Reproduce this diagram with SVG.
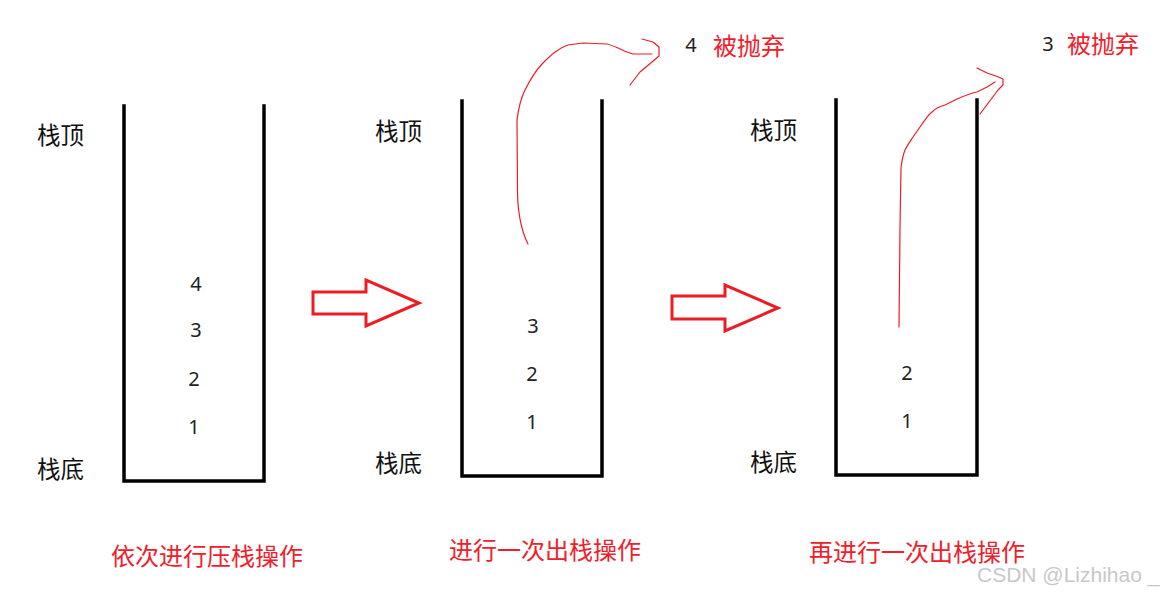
<svg xmlns="http://www.w3.org/2000/svg" width="1168" height="592" viewBox="0 0 1168 592">
<style>
.wall{fill:none;stroke:#000;stroke-width:3.5;stroke-linecap:square}
.lbl{font-family:"Noto Sans CJK SC","Liberation Sans",sans-serif;font-size:23.5px;fill:#111}
.num{font-family:"Noto Sans","Noto Sans CJK SC",sans-serif;font-size:20px;fill:#222;text-anchor:middle}
.red{font-family:"Noto Sans CJK SC","Liberation Sans",sans-serif;font-size:24px;fill:#f0202a}
.big{fill:none;stroke:#ED1C24;stroke-width:3}
.pen{fill:none;stroke:#ED1C24;stroke-width:1.2;stroke-linejoin:round;stroke-linecap:round}
.wm{font-family:"Liberation Sans","Noto Sans",sans-serif;font-size:21px;fill:#c8c8c8}
</style>
<rect width="1168" height="592" fill="#fff"/>

<g id="stack1">
<path class="wall" d="M124,106 V481 H264 V106"/>
<text class="lbl" x="37" y="144">栈顶</text>
<text class="lbl" x="37" y="478">栈底</text>
<text class="num" x="196" y="291">4</text>
<text class="num" x="196" y="337">3</text>
<text class="num" x="194" y="386">2</text>
<text class="num" x="194" y="434">1</text>
<text class="red" x="111" y="565">依次进行压栈操作</text>
</g>

<g id="stack2">
<path class="wall" d="M462,101 V476 H602 V101"/>
<text class="lbl" x="375" y="140">栈顶</text>
<text class="lbl" x="375" y="472">栈底</text>
<text class="num" x="533" y="333">3</text>
<text class="num" x="532" y="381">2</text>
<text class="num" x="532" y="429">1</text>
<text class="red" x="449" y="559">进行一次出栈操作</text>
<text class="num" x="691" y="52">4</text>
<text class="red" x="713" y="55">被抛弃</text>
</g>

<g id="stack3">
<path class="wall" d="M836,100 V475 H977 V100"/>
<text class="lbl" x="750" y="139">栈顶</text>
<text class="lbl" x="750" y="471">栈底</text>
<text class="num" x="907" y="380">2</text>
<text class="num" x="907" y="428">1</text>
<text class="red" x="809" y="561">再进行一次出栈操作</text>
<text class="num" x="1048" y="51">3</text>
<text class="red" x="1067" y="53">被抛弃</text>
</g>

<g id="connectors">
<polygon class="big" points="313,292 366,292 366,280 419,303 366,326 366,314 313,314"/>
<polygon class="big" points="672,296 725,296 725,285 778,308 725,331 725,319 672,319"/>
<path class="pen" d="M528,244 C522,232 518,215 517.5,193 L517,120 C519,104 522,96 525,90 C530,80 536,70 543,63 C550,56 558,48 568,45 L583,43 L607,44 C615,46 622,50 627,52 L633,54 L652,54"/>
<path class="pen" d="M642,39 L653,42 L659,47 L659,56 L652,62 L640,72 L630,85"/>
<path class="pen" d="M899,327 L900,228 L901,168 C902,160 903,155 905,150 C908,144 911,140 913,137 L920,127 C924,121 928,115 932,112 C936,108 941,106 945,105 L957,99 C964,96 971,93 977,92 L987,87 L995,82"/>
<path class="pen" d="M977,68 L987,73 L996,76 L1003,79 L1003,85 L998,90 L992,98 L980,114"/>
</g>

<text class="wm" x="977" y="582">CSDN @Lizhihao _</text>
</svg>
